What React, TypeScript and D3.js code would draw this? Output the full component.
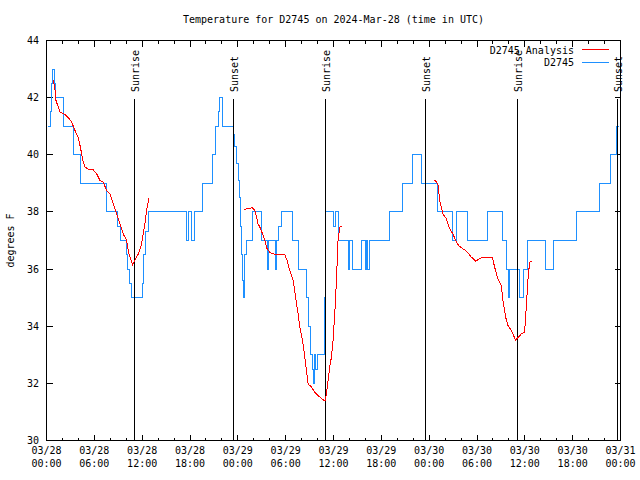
import * as d3 from "d3";
import React from "react";

const width = 640;
const height = 480;
const plot = { left: 46.5, right: 620.5, top: 40.5, bottom: 440.5 };

const title = "Temperature for D2745 on 2024-Mar-28 (time in UTC)";
const yTitle = "degrees F";
const obsName = "D2745";
const analysisName = "D2745 Analysis";

const startTime = Date.UTC(2024, 2, 28);
const endTime = Date.UTC(2024, 2, 31);
const tempDomain = [30, 44];

// observations: hours after 03/28 00:00 UTC, value holds until next entry
const obsHours = [
  0.19, 0.5, 0.63, 0.75, 0.98, 1.07, 2.19, 3.36, 4.32, 7.58, 8.96, 9.27, 10.03, 10.21, 10.4, 10.65,
  12.01, 12.22, 12.47, 12.76, 17.55, 17.8, 18.24, 18.55, 19.55, 20.8, 21.18, 21.56, 21.74, 22.12,
  23.41, 23.62, 23.84, 24.04, 24.25, 24.38, 24.46, 24.59, 24.66, 24.88, 25.09, 25.84, 26.97, 27.76,
  27.89, 28.76, 28.89, 29.08, 29.45, 30.83, 31.62, 32.59, 32.81, 33.09, 33.34, 33.44, 33.59, 33.78,
  33.96, 34.82, 34.97, 35.97, 36.22, 36.57, 37.82, 38.04, 38.38, 39.48, 39.98, 40.14, 40.29, 40.46,
  43.05, 44.64, 45.97, 47.09, 49.1, 50.95, 51.41, 52.8, 55.37, 57.15, 57.69, 57.96, 58.12, 59.37,
  59.84, 60.28, 62.63, 63.63, 66.42, 69.41, 70.69, 71.5, 71.75,
];
const obsTemps = [
  41, 41.5, 42.5, 43, 42.5, 42, 41, 40, 39, 38, 37.5, 37, 36.5, 36, 35.5, 35,
  35.5, 36.5, 37.3, 38, 37, 38, 37, 38, 39, 40, 41, 41.5, 42, 41,
  40.7, 40.3, 39.7, 39.1, 38.5, 37.5, 36.5, 35.6, 35, 36.5, 37, 38, 37, 36,
  37, 36, 37, 37.5, 38, 37, 36, 35, 34, 33, 32.5, 32, 33, 32.5,
  33, 35, 38, 37.5, 38, 37, 36, 37, 36, 37, 36, 37, 36, 37,
  38, 39, 40, 39, 38, 37, 38, 37, 38, 37, 36, 35, 36, 35,
  36, 37, 36, 37, 38, 39, 40, 41, 41,
];

// analysis runs
const analysisHours1 = [
  0.85, 1.07, 1.19, 1.48, 1.69, 1.9, 2.32, 2.73, 3.16, 3.57, 3.99, 4.2, 4.41, 4.61, 4.83, 5.24, 5.87,
  6.29, 6.71, 7.12, 7.54, 7.96, 8.37, 8.8, 9.21, 9.63, 10.05, 10.25, 10.46, 10.8, 11.09, 11.51, 11.84,
  12.13, 12.34, 12.56, 12.85,
];
const analysisTemps1 = [
  42.62, 42.25, 41.9, 41.67, 41.5, 41.47, 41.41, 41.3, 41.14, 40.85, 40.6, 40.33, 40.04, 39.74, 39.57,
  39.5, 39.47, 39.33, 39.1, 39.04, 38.75, 38.63, 38.28, 37.93, 37.58, 37.23, 37.0, 36.65, 36.42, 36.16,
  36.3, 36.53, 36.77, 37.23, 37.58, 38.05, 38.5,
];
const analysisHours2 = [
  24.79, 25.29, 25.84, 26.13, 26.34, 26.54, 26.76, 27.1, 27.38, 27.67, 28.01, 28.42, 29.05, 29.89,
  30.18, 30.52, 30.93, 31.14, 31.36, 31.56, 31.77, 32.11, 32.4, 32.61, 32.81, 33.24, 33.65, 34.28,
  34.94, 35.12, 35.32, 35.53, 35.74, 35.94, 36.16, 36.37, 36.57, 36.78, 37.0,
];
const analysisTemps2 = [
  38.08, 38.13, 38.14, 38.05, 37.82, 37.58, 37.47, 37.23, 37.0, 36.71, 36.59, 36.53, 36.51, 36.51,
  36.3, 35.95, 35.6, 35.25, 34.78, 34.43, 33.97, 33.5, 32.92, 32.45, 31.98, 31.87, 31.69, 31.52,
  31.38, 31.63, 32.1, 32.57, 32.92, 33.5, 34.43, 35.6, 37.0, 37.47, 37.5,
];
const analysisHours3 = [
  48.69, 49.1, 49.32, 49.53, 49.73, 50.16, 50.57, 50.98, 51.41, 51.82, 52.66, 53.29, 53.83, 54.33,
  54.74, 55.37, 55.92, 56.21, 56.62, 57.05, 57.25, 57.59, 57.88, 58.3, 58.84, 59.13, 59.56, 59.97,
  60.18, 60.38, 60.6, 60.94,
];
const analysisTemps3 = [
  39.12, 38.98, 38.4, 38.17, 37.93, 37.76, 37.41, 37.23, 36.94, 36.79, 36.63, 36.42, 36.28, 36.36,
  36.42, 36.42, 36.42, 36.07, 35.66, 35.43, 34.9, 34.32, 34.03, 33.85, 33.52, 33.6, 33.73, 33.79,
  34.67, 35.6, 36.24, 36.27,
];

const sunriseHours = [11.0, 34.94, 58.98];
const sunsetHours = [23.4, 47.47, 71.59];

const font = "'DejaVu Sans Mono', 'Liberation Mono', monospace";
const obsColor = "#1e90ff";
const analysisColor = "#ff0000";

const toDate = (h: number) => new Date(startTime + h * 3600 * 1000);

export default function App() {
  const x = d3.scaleUtc().domain([new Date(startTime), new Date(endTime)]).range([plot.left, plot.right]);
  const y = d3.scaleLinear().domain(tempDomain).range([plot.bottom, plot.top]);

  const majorTicks = x.ticks(d3.utcHour.every(6)!);
  const minorTicks = x.ticks(d3.utcHour.every(2)!).filter((d) => d.getUTCHours() % 6 !== 0);
  const yTicks = y.ticks(7);
  const fmtDay = d3.utcFormat("%m/%d");
  const fmtHour = d3.utcFormat("%H:%M");

  const obsLine = d3
    .line<number>()
    .x((h) => x(toDate(h)))
    .y((_, i) => y(obsTemps[i]))
    .curve(d3.curveStepAfter);

  const runs = [
    [analysisHours1, analysisTemps1],
    [analysisHours2, analysisTemps2],
    [analysisHours3, analysisTemps3],
  ];
  const runPath = (hours: number[], temps: number[]) =>
    d3
      .line<number>()
      .x((h) => x(toDate(h)))
      .y((_, i) => y(temps[i]))(hours) || "";

  const sunEvents = [
    ...sunriseHours.map((h) => ({ h, label: "Sunrise" })),
    ...sunsetHours.map((h) => ({ h, label: "Sunset" })),
  ];

  return (
    <svg
      width={width}
      height={height}
      style={{ position: "absolute", left: 0, top: 0, background: "#fff" }}
      fontFamily={font}
      fontSize={10}
    >
      <rect width={width} height={height} fill="#fff" />
      <text x={(plot.left + plot.right) / 2} y={19} dy="0.35em" textAnchor="middle">
        {title}
      </text>
      <text transform={`translate(14,${(plot.top + plot.bottom) / 2}) rotate(-90)`} textAnchor="middle">
        {yTitle}
      </text>

      <g shapeRendering="crispEdges" stroke="#000" strokeWidth={1}>
        <rect
          x={plot.left}
          y={plot.top}
          width={plot.right - plot.left}
          height={plot.bottom - plot.top}
          fill="none"
        />
        {yTicks.map((t) => (
          <g key={`y${t}`}>
            <line x1={plot.left} x2={plot.left + 6} y1={y(t)} y2={y(t)} />
            <line x1={plot.right} x2={plot.right - 6} y1={y(t)} y2={y(t)} />
          </g>
        ))}
        {majorTicks.map((t) => (
          <g key={`mx${+t}`}>
            <line x1={x(t)} x2={x(t)} y1={plot.bottom} y2={plot.bottom - 6} />
            <line x1={x(t)} x2={x(t)} y1={plot.top} y2={plot.top + 6} />
          </g>
        ))}
        {minorTicks.map((t) => (
          <g key={`nx${+t}`}>
            <line x1={x(t)} x2={x(t)} y1={plot.bottom} y2={plot.bottom - 3} />
            <line x1={x(t)} x2={x(t)} y1={plot.top} y2={plot.top + 3} />
          </g>
        ))}
      </g>

      {yTicks.map((t) => (
        <text key={`yl${t}`} x={39} y={y(t)} dy="0.35em" textAnchor="end">
          {t}
        </text>
      ))}
      {majorTicks.map((t) => (
        <text key={`xl${+t}`} x={x(t)} textAnchor="middle">
          <tspan x={x(t)} y={454}>
            {fmtDay(t)}
          </tspan>
          <tspan x={x(t)} y={467}>
            {fmtHour(t)}
          </tspan>
        </text>
      ))}

      <path d={obsLine(obsHours) || ""} fill="none" stroke={obsColor} strokeWidth={1} shapeRendering="crispEdges" />

      {sunEvents.map((e) => {
        const sx = Math.round(x(toDate(e.h))) + 0.5;
        return (
          <g key={`sun${e.h}`}>
            <line x1={sx} x2={sx} y1={99} y2={plot.bottom} stroke="#000" strokeWidth={1} shapeRendering="crispEdges" />
            <text transform={`translate(${sx + 4},92) rotate(-90)`} textAnchor="start">
              {e.label}
            </text>
          </g>
        );
      })}

      {runs.map(([hours, temps], i) => (
        <path
          key={`run${i}`}
          d={runPath(hours, temps)}
          fill="none"
          stroke={analysisColor}
          strokeWidth={1}
          shapeRendering="crispEdges"
        />
      ))}

      <g>
        <text x={574} y={50} dy="0.35em" textAnchor="end">
          {analysisName}
        </text>
        <line x1={582} x2={609} y1={49.5} y2={49.5} stroke={analysisColor} shapeRendering="crispEdges" />
        <text x={574} y={62.5} dy="0.35em" textAnchor="end">
          {obsName}
        </text>
        <line x1={582} x2={609} y1={62.5} y2={62.5} stroke={obsColor} shapeRendering="crispEdges" />
      </g>
    </svg>
  );
}
